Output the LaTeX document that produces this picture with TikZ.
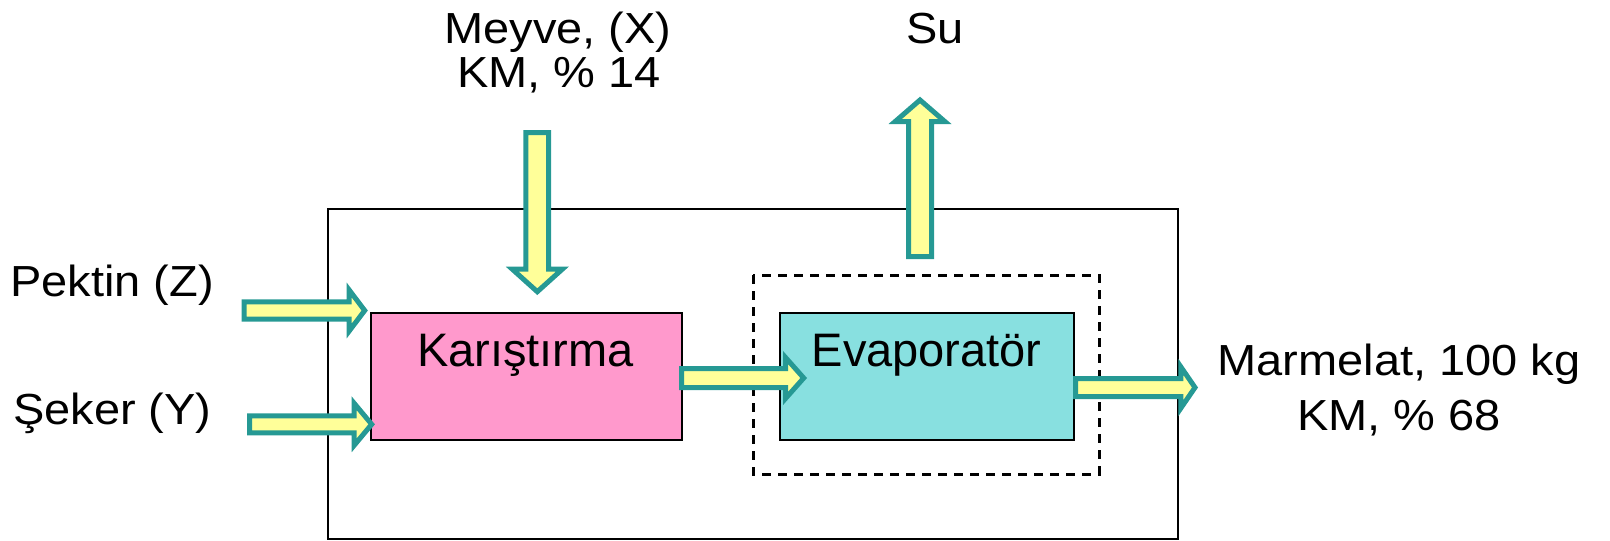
\documentclass[tikz,border=0pt]{standalone}
\usepackage{fontspec}
\setmainfont{Liberation Sans}
\newfontfamily\labelfont[FakeStretch=1.08]{Liberation Sans}

\definecolor{arrowedge}{RGB}{38,153,148}
\definecolor{arrowfill}{RGB}{255,255,153}
\definecolor{mixpink}{RGB}{255,153,204}
\definecolor{evapcyan}{RGB}{136,224,224}

% block arrow pointing right: {tail x}{head base x}{tip x}{centre y}{shaft half}{head half}
\newcommand{\flowright}[6]{%
  \draw[flowarrow] (#1,#4-#5) -- (#2,#4-#5) -- (#2,#4-#6) -- (#3,#4)
    -- (#2,#4+#6) -- (#2,#4+#5) -- (#1,#4+#5) -- cycle;}
% vertical block arrow: {tail y}{head base y}{tip y}{centre x}{shaft half}{head half}
\newcommand{\flowvert}[6]{%
  \draw[flowarrow] (#4-#5,#1) -- (#4-#5,#2) -- (#4-#6,#2) -- (#4,#3)
    -- (#4+#6,#2) -- (#4+#5,#2) -- (#4+#5,#1) -- cycle;}

\begin{document}
\begin{tikzpicture}[x=1pt, y=-1pt,
  frame/.style={draw=black, line width=2pt},
  procbox/.style={draw=black, line width=2pt, inner sep=0pt, anchor=north west},
  evapzone/.style={draw=black, line width=3pt, dash pattern=on 9pt off 7pt},
  flowarrow/.style={draw=arrowedge, fill=arrowfill, line width=5pt, line join=miter},
  boxtext/.style={inner sep=0pt, anchor=base, font=\fontsize{47}{56}\selectfont},
  streamtext/.style={inner sep=0pt, anchor=base, font=\labelfont\fontsize{43.5}{52}\selectfont}]

\useasboundingbox (0,0) rectangle (1610,541);

% system boundary
\draw[frame] (328.3,209.3) rectangle (1178,539.3);

% process units
\node[procbox, fill=mixpink, minimum width=310.4pt, minimum height=126.8pt] (mix) at (370.3,311.7) {};
\node[procbox, fill=evapcyan, minimum width=294.6pt, minimum height=127.3pt] (evap) at (778.7,311.7) {};
\draw[evapzone] (753.3,275) rectangle (1099,474);

\node[boxtext] (mixlabel) at (525.5,366.7) {Karıştırma};
\node[boxtext] (evaplabel) at (926.7,366.7) {Evaporatör};

% streams
\flowvert{132.5}{269.2}{291.7}{537.3}{11.4}{25}
\flowvert{256.5}{121.5}{100}{920}{11.5}{24.8}
\flowright{244.2}{349.2}{364.7}{310.5}{8.7}{20.5}
\flowright{249.5}{354.2}{371.7}{424.3}{8.5}{21}
\flowright{681.5}{785.5}{803.7}{378}{9.5}{20.5}
\flowright{1075.5}{1180.8}{1195}{387.5}{9}{20.7}

% stream labels
\node[streamtext] (meyve) at (558,43.3) {Meyve, (X)};
\node[streamtext] (meyvekm) at (559,87.3) {KM, \% 14};
\node[streamtext] (su) at (935,43.3) {Su};
\node[streamtext, anchor=base west] (pektin) at (10,296.7) {Pektin (Z)};
\node[streamtext, anchor=base west] (seker) at (13,424) {Şeker (Y)};
\node[streamtext] (marmelat) at (1399,375) {Marmelat, 100 kg};
\node[streamtext] (marmelatkm) at (1399,430) {KM, \% 68};

\end{tikzpicture}
\end{document}
